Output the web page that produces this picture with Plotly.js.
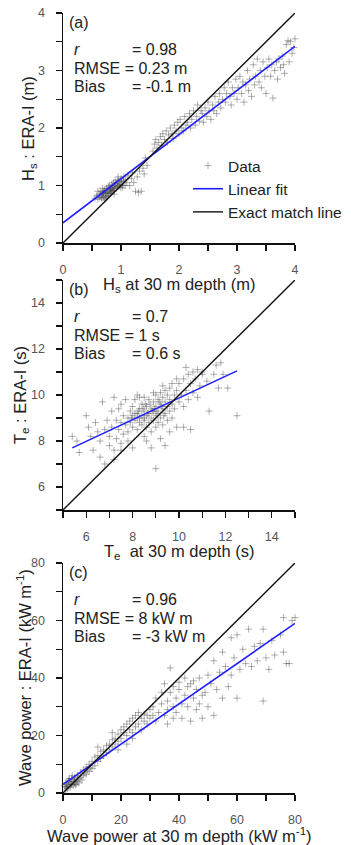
<!DOCTYPE html>
<html>
<head>
<meta charset="utf-8">
<script src="https://cdn.plot.ly/plotly-3.0.1.min.js"></script>
<style>html,body{margin:0;padding:0;background:#fff}#chart{width:351px;height:845px}</style>
</head>
<body>
<div id="chart"></div>
<script>
// ---------- Panel (a): Hs ----------
const hsBuoy = [0.55,0.58,0.6,0.62,0.63,0.65,0.66,0.68,0.7,0.7,0.72,0.73,0.74,0.75,0.76,0.78,0.78,0.8,0.8,0.82,0.83,0.84,0.85,0.86,0.87,0.88,0.9,0.9,0.92,0.93,0.95,0.96,0.98,1.0,1.0,1.02,1.04,1.05,1.07,1.08,1.1,1.12,0.68,0.6,0.72,0.88,0.95,1.15,1.18,1.2,
0.64,0.67,0.71,0.74,0.77,0.79,0.81,0.83,0.85,0.87,0.89,0.91,0.94,0.97,0.99,1.01,1.03,0.76,0.69,0.82,
1.25,1.3,1.35,1.22,1.28,1.32,1.38,1.4,1.45,1.42,
1.55,1.58,1.6,1.62,1.65,1.68,1.7,1.72,1.75,1.78,1.8,1.82,1.85,1.88,1.9,1.92,1.95,1.98,2.0,
2.02,2.05,2.08,2.1,2.12,2.15,2.18,2.2,2.22,2.25,2.28,2.3,2.32,2.35,2.38,2.4,2.42,2.45,2.48,2.5,2.52,2.55,2.58,2.6,2.62,2.65,2.68,
2.7,2.72,2.75,2.78,2.8,2.82,2.85,2.88,2.9,2.92,2.95,2.98,3.0,3.02,3.05,3.08,3.1,3.12,3.15,3.18,3.2,3.22,3.25,3.28,3.3,3.32,3.35,3.38,3.4,3.42,3.45,3.48,3.5,
3.52,3.55,3.58,3.6,3.62,3.65,3.68,3.7,3.72,3.75,3.78,3.8,3.82,3.85,3.9,3.92,3.95,4.0,4.05,4.1,3.98,3.88];
const hsEra = [0.78,0.82,0.76,0.85,0.8,0.9,0.78,0.84,0.88,0.8,0.92,0.86,0.78,0.95,0.88,0.83,0.98,0.9,1.0,0.86,0.94,1.02,0.9,0.98,1.05,0.92,1.0,1.08,0.95,1.04,1.1,0.98,1.06,1.02,1.12,0.96,1.08,1.15,1.0,1.1,1.05,1.18,0.95,0.9,0.75,0.85,1.15,1.0,1.12,1.22,
0.83,0.79,0.9,0.82,0.92,0.86,0.95,0.88,0.97,0.91,0.96,1.03,0.99,1.01,0.97,1.07,1.0,0.81,0.87,0.93,
0.9,0.88,0.9,1.05,1.15,1.25,1.3,1.2,1.35,1.48,
1.6,1.72,1.8,1.65,1.75,1.85,1.7,1.9,1.8,1.95,1.75,1.88,2.0,1.9,1.82,2.05,1.95,2.1,1.9,
2.15,2.0,1.95,2.2,2.05,2.1,2.25,2.0,2.15,2.3,2.05,2.2,2.4,2.12,2.3,2.25,2.1,2.35,2.2,2.45,2.3,2.15,2.4,2.3,2.55,2.25,2.45,
2.6,2.35,2.5,2.7,2.45,2.6,2.8,2.55,2.4,2.7,2.6,2.85,2.5,2.7,2.9,2.6,2.8,2.45,2.75,3.0,2.65,2.85,2.55,3.1,2.75,2.9,3.2,2.8,3.0,2.7,3.15,2.9,2.6,
3.05,3.2,2.9,3.1,2.52,3.0,3.15,2.85,3.2,3.05,3.25,3.1,2.95,3.45,3.15,3.5,3.3,3.55,3.05,2.8,3.4,3.52];
const hsFitX = [0, 4];
const hsFitY = [0.35, 3.42];
const hsMatch = [0, 4];

// ---------- Panel (b): Te ----------
const teBuoy = [5.4,5.6,5.7,6.0,6.1,6.2,6.3,6.4,6.5,6.6,6.7,6.8,6.8,6.9,7.0,7.0,7.1,7.1,7.2,7.2,7.3,7.3,7.4,7.4,7.5,7.5,7.5,7.6,7.6,7.7,7.7,
7.8,7.8,7.9,7.9,8.0,8.0,8.0,8.1,8.1,8.2,8.2,8.2,8.3,8.3,8.3,8.4,8.4,8.4,8.5,8.5,8.5,8.5,8.6,8.6,8.6,8.7,8.7,8.7,8.8,8.8,8.8,8.9,8.9,8.9,9.0,9.0,9.0,9.0,9.1,9.1,9.1,9.2,9.2,9.2,9.3,9.3,9.3,9.4,9.4,9.4,9.5,9.5,9.5,9.6,9.6,9.6,9.7,9.7,9.8,9.8,
8.8,9.0,9.2,9.4,9.6,9.9,10.2,10.5,8.6,8.0,7.8,7.5,7.2,6.6,
9.9,10.0,10.0,10.1,10.2,10.2,10.3,10.4,10.4,10.5,10.6,10.6,10.7,10.8,10.8,10.9,11.0,11.0,11.2,11.3,11.5,11.6,11.7,11.9,12.1,12.5,11.8,10.3,9.9,9.7,9.3,8.9,8.5,8.2,
8.1,8.3,8.45,8.65,8.75,8.95,9.05,9.15,9.35,8.55,8.25,7.95,8.85,9.25];
const teEra = [8.2,8.0,7.5,9.1,8.6,8.2,7.6,8.8,8.4,8.0,9.7,7.0,8.5,8.9,8.2,7.8,9.3,8.6,9.9,7.2,8.9,8.1,9.4,8.5,8.8,9.6,7.9,9.1,8.3,9.8,8.7,
9.0,8.4,9.3,8.8,9.1,8.6,9.5,8.9,9.8,9.2,8.5,9.0,9.4,8.8,9.9,9.1,8.7,9.6,9.3,8.9,9.0,8.2,9.5,9.1,8.6,9.8,9.2,8.8,9.4,9.0,8.4,9.7,9.3,8.9,9.5,9.1,8.6,10.0,9.3,8.8,9.8,9.6,9.0,10.1,9.4,8.7,9.9,9.7,9.2,10.2,9.5,8.9,10.0,9.8,9.3,10.3,9.6,9.0,10.0,9.4,
7.7,6.8,8.1,7.8,8.4,8.6,8.6,8.5,8.0,7.7,8.0,7.6,7.6,7.3,
10.2,9.7,10.5,10.0,10.7,9.5,10.2,10.9,9.8,10.5,11.0,10.1,10.7,11.1,9.9,10.4,10.9,11.0,10.6,9.3,10.9,11.3,10.3,10.9,10.3,9.1,11.4,11.2,10.7,10.5,10.4,10.1,9.9,10.0,
9.2,9.0,9.4,9.2,9.6,9.4,9.2,9.7,9.1,9.6,9.3,9.0,9.3,9.5];
const teFitX = [5.4, 12.5];
const teFitY = [7.7, 11.05];
const teMatch = [5, 15];

// ---------- Panel (c): Wave power ----------
const wpBuoy = [1,1.5,2,2,2.5,3,3,3.5,4,4,4.5,5,5,5.5,6,6,1,1.5,2.5,3.5,4.5,5.5,6.5,7,7,7.5,8,8,8.5,9,9,9.5,10,0.5,1,1.8,2.2,3.2,2.8,3.8,4.2,1.2,
10,11,11,12,12,13,13,14,14,15,15,16,16,17,17,18,18,19,19,20,20,21,21,22,22,23,23,24,24,25,25,26,26,27,27,28,28,29,29,30,30,17,12,22,24,19,
31,31,32,32,33,34,34,35,35,36,36,37,37,38,38,39,39,40,40,41,41,42,42,43,43,44,44,45,45,46,46,47,47,48,48,49,50,50,38,36,
51,52,52,53,54,55,55,56,57,58,58,59,60,60,61,62,63,64,65,66,67,68,69,69,70,72,73,75,76,76,77,78,79,80,82,83,84,84,71];
const wpEra = [2,3,2.5,4,3.5,3,5,4,3.5,5.5,4.5,4,6,5,5.5,7,1,1.5,2,2.5,3,3.5,4.5,6,8,7,6.5,9,8,7.5,10,9,8.5,2.5,3.5,4.5,5,6,3,4.5,2.8,2.2,
11,12.5,9.5,13,11,14.5,12,15,13,16.5,14,17,15,18.5,16,19,17,20.5,18,22,19,21,23,20,24,22,25,21,26,27,23,24,28,26,22,25,27.5,24,27,26,29,21,16,17,19,15,
27,30,25,33,28,31,35,27,38,32,29,35,43.5,30,37,33,28,36,38.5,31,26,34,40,30,37,38,25,33,39,36,29,40,31,34,26,35,41,30,26,24,
38,27,46,36,42,49,33,44,37,54,41,47,55,33,43,50,45,57,44,51,46,52,32,57,47,53,48,55,61,49,45,45,60,61,53,52,49,35,43];
const wpFitX = [0, 80];
const wpFitY = [3, 59];
const wpMatch = [0, 80];

// ---------- Text ----------
const panelLabels = ['(a)', '(b)', '(c)'];
const statR = ['= 0.98', '= 0.7', '= 0.96'];
const statRMSE = ['RMSE = 0.23 m', 'RMSE = 1 s', 'RMSE = 8 kW m'];
const statBias = ['= -0.1 m', '= 0.6 s', '= -3 kW m'];
const xTitles = ['H<sub>s</sub> at 30 m depth (m)', 'T<sub>e</sub>  at 30 m depth (s)', 'Wave power at 30 m depth (kW m<sup>-1</sup>)'];
const yTitles = ['H<sub>s</sub> : ERA-I (m)', 'T<sub>e</sub> : ERA-I (s)', 'Wave power : ERA-I (kW m<sup>-1</sup>)'];
const legendNames = ['Data', 'Linear fit', 'Exact match line'];

// ---------- Build ----------
const W = 351, H = 845;
const FONT = 'Liberation Sans, Arial, sans-serif';
const px = x => x / W;
const py = y => 1 - y / H;

const markerStyle = {symbol: 'cross-thin-open', size: 5, line: {width: 0.9, color: 'rgba(50,50,50,0.42)'}, color: 'rgba(50,50,50,0.42)'};
const fitStyle = {color: 'rgb(30,30,255)', width: 1.6};
const matchStyle = {color: '#111', width: 1.4};

const sets = [
  {x: hsBuoy, y: hsEra, fx: hsFitX, fy: hsFitY, m: hsMatch},
  {x: teBuoy, y: teEra, fx: teFitX, fy: teFitY, m: teMatch},
  {x: wpBuoy, y: wpEra, fx: wpFitX, fy: wpFitY, m: wpMatch}
];

const traces = [];
sets.forEach((s, i) => {
  const xa = i === 0 ? 'x' : 'x' + (i + 1);
  const ya = i === 0 ? 'y' : 'y' + (i + 1);
  traces.push({x: s.x, y: s.y, xaxis: xa, yaxis: ya, type: 'scatter', mode: 'markers', marker: markerStyle, name: legendNames[0], showlegend: i === 0, cliponaxis: false, hoverinfo: 'skip'});
  traces.push({x: s.fx, y: s.fy, xaxis: xa, yaxis: ya, type: 'scatter', mode: 'lines', line: fitStyle, name: legendNames[1], showlegend: i === 0, hoverinfo: 'skip'});
  traces.push({x: s.m, y: s.m, xaxis: xa, yaxis: ya, type: 'scatter', mode: 'lines', line: matchStyle, name: legendNames[2], showlegend: i === 0, hoverinfo: 'skip'});
});

// pixel geometry of the three plot areas
const LEFT = 63, RIGHT = 295;
const boxes = [
  {top: 13, bottom: 243, ytx: 29},
  {top: 280, bottom: 510, ytx: 21},
  {top: 563, bottom: 793, ytx: 24}
];
const xRanges = [[0, 4], [5, 15], [0, 80]];
const yRanges = [[0, 4], [5, 15], [0, 80]];
const majors = [1, 2, 20];
const minors = [0.5, 1, 10];

const layout = {
  width: W, height: H,
  margin: {l: 0, r: 0, t: 0, b: 0},
  paper_bgcolor: '#fff', plot_bgcolor: 'rgba(0,0,0,0)',
  font: {family: FONT, color: '#222'},
  showlegend: true,
  legend: {x: px(188), y: py(149), xanchor: 'left', yanchor: 'top', bgcolor: 'rgba(0,0,0,0)', font: {size: 15.5, family: FONT, color: '#222'}, tracegroupgap: 0, itemwidth: 30},
  annotations: [],
  shapes: []
};

const ann = (text, x, y, extra) => layout.annotations.push(Object.assign({
  text: text, xref: 'paper', yref: 'paper', x: px(x), y: py(y), xanchor: 'left', yanchor: 'middle',
  showarrow: false, font: {size: 16, family: FONT, color: '#222'}
}, extra || {}));

boxes.forEach((b, i) => {
  const k = i === 0 ? '' : String(i + 1);
  const axCommon = {
    showline: true, linecolor: '#111', linewidth: 1.5, mirror: false,
    ticks: 'outside', ticklen: 6, tickwidth: 1.3, tickcolor: '#111',
    showgrid: false, zeroline: false, fixedrange: true,
    tickfont: {size: 12.5, family: FONT, color: '#555'},
    ticklabelstandoff: 8,
    minor: {ticks: 'outside', ticklen: 6, tickwidth: 1.3, tickcolor: '#111', showgrid: false, dtick: minors[i]},
    dtick: majors[i], tick0: 0
  };
  layout['xaxis' + k] = Object.assign({}, axCommon, {
    domain: [px(LEFT), px(RIGHT)], range: xRanges[i], anchor: 'y' + k
  });
  layout['yaxis' + k] = Object.assign({}, axCommon, {
    domain: [py(b.bottom), py(b.top)], range: yRanges[i], anchor: 'x' + k
  });
  // axis titles
  ann(xTitles[i], (LEFT + RIGHT) / 2, b.bottom + 42, {xanchor: 'center', font: {size: 16.5, family: FONT, color: '#222'}});
  ann(yTitles[i], b.ytx, (b.top + b.bottom) / 2, {xanchor: 'center', textangle: -90, font: {size: 16.5, family: FONT, color: '#222'}});
  // panel label and statistics
  ann(panelLabels[i], 67, b.top + 9);
  ann('<i>r</i>', 72, b.top + 36);
  ann(statR[i], 130, b.top + 36);
  ann(statRMSE[i], 72, b.top + 55);
  ann('Bias', 72, b.top + 73);
  ann(statBias[i], 130, b.top + 73);
});

Plotly.newPlot('chart', traces, layout, {staticPlot: true, displayModeBar: false});
</script>
</body>
</html>
